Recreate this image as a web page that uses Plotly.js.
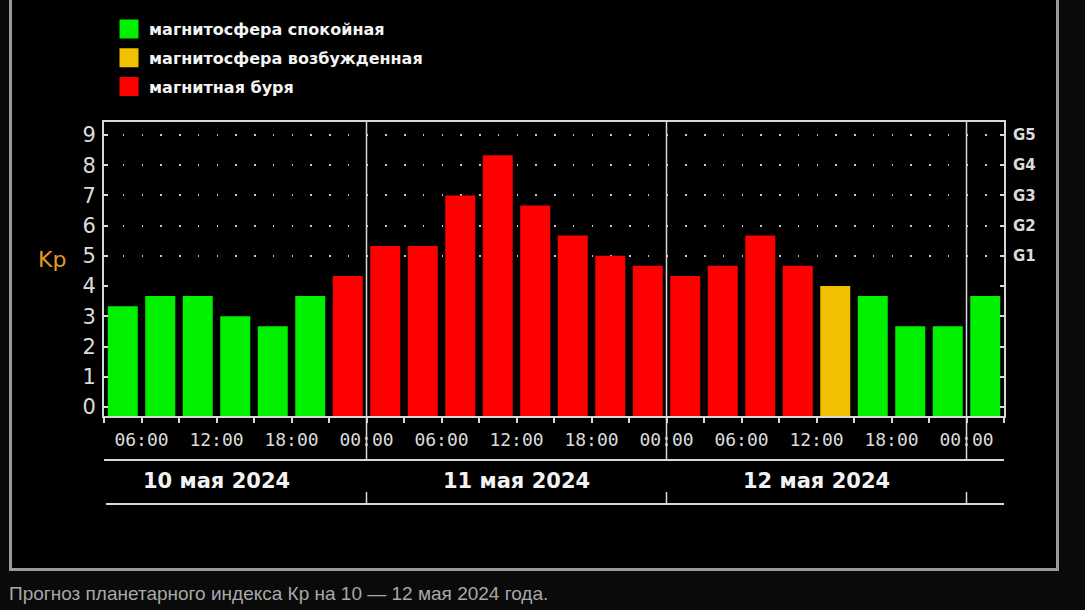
<!DOCTYPE html>
<html><head><meta charset="utf-8">
<script src="https://cdn.plot.ly/plotly-3.0.1.min.js"></script>
<style>html,body{margin:0;padding:0;background:#0a0a0a;}#chart{width:1085px;height:610px;}</style>
</head><body><div id="chart"></div>
<script>
// ---- data ----
const startTimes = [
  '2024-05-10 03:00','2024-05-10 06:00','2024-05-10 09:00','2024-05-10 12:00',
  '2024-05-10 15:00','2024-05-10 18:00','2024-05-10 21:00',
  '2024-05-11 00:00','2024-05-11 03:00','2024-05-11 06:00','2024-05-11 09:00',
  '2024-05-11 12:00','2024-05-11 15:00','2024-05-11 18:00','2024-05-11 21:00',
  '2024-05-12 00:00','2024-05-12 03:00','2024-05-12 06:00','2024-05-12 09:00',
  '2024-05-12 12:00','2024-05-12 15:00','2024-05-12 18:00','2024-05-12 21:00',
  '2024-05-13 00:00'
];
const kpValues = [
  3.33, 3.67, 3.67, 3.00, 2.67, 3.67, 4.33,
  5.33, 5.33, 7.00, 8.33, 6.67, 5.67, 5.00, 4.67,
  4.33, 4.67, 5.67, 4.67, 4.00, 3.67, 2.67, 2.67,
  3.67
];
const statusValues = [
  'quiet','quiet','quiet','quiet','quiet','quiet','storm',
  'storm','storm','storm','storm','storm','storm','storm','storm',
  'storm','storm','storm','storm','active','quiet','quiet','quiet',
  'quiet'
];
const statusKeys = ['quiet','active','storm'];
const statusNames = ['магнитосфера спокойная','магнитосфера возбужденная','магнитная буря'];
const statusColors = ['#00f000','#f2c000','#ff0000'];
const kpTicks = [0,1,2,3,4,5,6,7,8,9];
const gLevels = [5,6,7,8,9];
const gLabels = ['G1','G2','G3','G4','G5'];
const dayStarts = ['2024-05-11 00:00','2024-05-12 00:00','2024-05-13 00:00'];
const dayNoons = ['2024-05-10 12:00','2024-05-11 12:00','2024-05-12 12:00'];
const dayLabels = ['10 мая 2024','11 мая 2024','12 мая 2024'];
const captionText = 'Прогноз планетарного индекса Кр на 10 — 12 мая 2024 года.';
const xStart = '2024-05-10 03:00', xEnd = '2024-05-13 03:00';

// ---- layout helpers ----
const W = 1085, H = 610;
const M = {l: 104, r: 81, t: 122, b: 194};
const PW = W - M.l - M.r, PH = H - M.t - M.b;
const px = x => (x - M.l) / PW;
const py = y => (H - M.b - y) / PH;
const yRange = [-0.3, 9.43];
const H3 = 3 * 3600 * 1000;
const axisCol = '#d8d8d8';

const traces = [];
statusKeys.forEach((key, k) => {
  const idx = statusValues.map((s, i) => s === key ? i : -1).filter(i => i >= 0);
  traces.push({
    type: 'bar',
    x: idx.map(i => startTimes[i]),
    y: idx.map(i => kpValues[i] - yRange[0]),
    base: yRange[0],
    customdata: idx.map(i => kpValues[i]),
    hovertemplate: 'Kp %{customdata}<extra></extra>',
    width: H3 * 0.8,
    offset: H3 * 0.1,
    marker: {color: statusColors[k], line: {width: 0}},
    showlegend: false,
    name: statusNames[k]
  });
});
statusKeys.forEach((key, k) => {
  traces.push({
    type: 'scatter', mode: 'markers', x: [null], y: [null], yaxis: 'y2',
    name: statusNames[k], legendgroup: key,
    marker: {symbol: 'square', size: 20, color: statusColors[k], line: {color: statusColors[k], width: 3}},
    hoverinfo: 'skip'
  });
});

const shapes = [
  {type: 'rect', xref: 'paper', yref: 'paper', x0: px(10.5), x1: px(1057.5), y0: py(569.5), y1: py(-10),
   line: {color: '#9a9a9a', width: 3}, fillcolor: '#000', layer: 'below'},
  {type: 'line', xref: 'paper', yref: 'paper', x0: 0, x1: 1, y0: py(460), y1: py(460), line: {color: axisCol, width: 2}},
  {type: 'line', xref: 'paper', yref: 'paper', x0: px(106), x1: 1, y0: py(504), y1: py(504), line: {color: axisCol, width: 2}}
];
dayStarts.forEach(d => {
  shapes.push({type: 'line', xref: 'x', yref: 'paper', x0: d, x1: d, y0: py(460), y1: 1,
    line: {color: axisCol, width: 1.5}, layer: 'above'});
  shapes.push({type: 'line', xref: 'x', yref: 'paper', x0: d, x1: d, y0: py(504), y1: py(492),
    line: {color: axisCol, width: 1.5}, layer: 'above'});
});

const annotations = dayNoons.map((d, i) => ({
  xref: 'x', yref: 'paper', x: d, y: py(481), xanchor: 'center', yanchor: 'middle',
  text: dayLabels[i], showarrow: false,
  font: {family: 'DejaVu Sans', size: 21, color: '#f2f2f2', weight: 'bold'}
}));
annotations.push({xref: 'paper', yref: 'paper', x: px(52), y: py(259), xanchor: 'center', yanchor: 'middle',
  text: 'Kp', showarrow: false, font: {family: 'DejaVu Sans', size: 22, color: '#e39b1c'}});
annotations.push({xref: 'paper', yref: 'paper', x: px(7), y: py(593), xanchor: 'left', yanchor: 'middle',
  text: captionText, showarrow: false, font: {family: 'Liberation Sans', size: 19, color: '#a8a8a8'}});

const layout = {
  width: W, height: H,
  margin: {l: M.l, r: M.r, t: M.t, b: M.b, pad: 0},
  paper_bgcolor: '#0a0a0a', plot_bgcolor: '#000',
  barmode: 'overlay',
  showlegend: true,
  legend: {x: px(109), y: py(12), xanchor: 'left', yanchor: 'top', bgcolor: 'rgba(0,0,0,0)',
    traceorder: 'grouped', tracegroupgap: 5,
    font: {family: 'DejaVu Sans', size: 16, color: '#f4f4f4', weight: 'bold'}},
  xaxis: {
    type: 'date', range: [xStart, xEnd], fixedrange: true,
    tickmode: 'linear', tick0: '2024-05-10 00:00', dtick: 2 * H3, tickformat: '%H:%M',
    ticks: 'outside', ticklen: 5, tickwidth: 1.5, tickcolor: axisCol,
    minor: {tickmode: 'linear', tick0: '2024-05-10 00:00', dtick: H3, ticks: 'outside', ticklen: 5, tickwidth: 1.5, tickcolor: axisCol, showgrid: false},
    showgrid: false, zeroline: false, showline: true, linecolor: axisCol, linewidth: 2, mirror: true,
    tickfont: {family: 'DejaVu Sans Mono', size: 18, color: '#dcdcdc'}, ticklabelstandoff: 1
  },
  yaxis: {
    range: yRange, fixedrange: true, tickmode: 'array', tickvals: kpTicks, ticktext: kpTicks.map(String),
    ticks: 'inside', ticklen: 4, tickwidth: 1.5, tickcolor: axisCol,
    showline: true, linecolor: axisCol, linewidth: 2, mirror: 'ticks', showgrid: false, zeroline: false,
    tickfont: {family: 'DejaVu Sans', size: 21, color: '#dcdcdc'}, ticklabelstandoff: 2
  },
  yaxis2: {
    overlaying: 'y', side: 'right', range: yRange, fixedrange: true,
    tickmode: 'array', tickvals: gLevels, ticktext: gLabels, ticks: '',
    showline: false, zeroline: false, showgrid: true, gridcolor: '#c8c8c8', gridwidth: 1.5, griddash: '1.5px,17.25px',
    tickfont: {family: 'DejaVu Sans', size: 15, color: '#dcdcdc', weight: 'bold'}, ticklabelstandoff: 8
  },
  shapes: shapes,
  annotations: annotations
};

Plotly.newPlot('chart', traces, layout, {displayModeBar: false});
</script>
</body></html>
